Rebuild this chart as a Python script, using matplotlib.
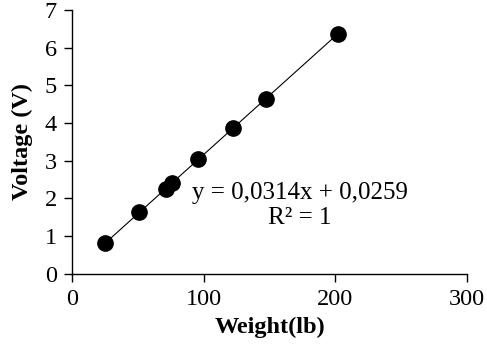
import matplotlib
matplotlib.use("Agg")
import matplotlib.pyplot as plt

# calibration data
weight_lb = [25, 51, 71, 76, 96, 122, 147, 202]
voltage_v = [0.81, 1.63, 2.26, 2.41, 3.04, 3.86, 4.64, 6.37]
fit_x = [25, 202]
fit_y = [0.811, 6.369]
x_ticks = [0, 100, 200, 300]
y_ticks = [0, 1, 2, 3, 4, 5, 6, 7]

plt.rcParams["font.family"] = ["Liberation Serif", "DejaVu Serif"]

fig = plt.figure(figsize=(4.87, 3.53), dpi=100)
ax = fig.add_axes([0.148, 0.224, 0.811, 0.748])

ax.plot(fit_x, fit_y, color="black", linewidth=0.8)
ax.plot(weight_lb, voltage_v, "o", color="black", markersize=11)

ax.set_xlim(0, 300)
ax.set_ylim(0, 7)
ax.set_xticks(x_ticks)
ax.set_yticks(y_ticks)
ax.tick_params(direction="out", length=6, width=1, labelsize=17.5, pad=5)
for s in ("top", "right"):
    ax.spines[s].set_visible(False)
for s in ("left", "bottom"):
    ax.spines[s].set_linewidth(1)

ax.set_xlabel("Weight(lb)", fontsize=17.5, fontweight="bold", labelpad=5)
ax.set_ylabel("Voltage (V)", fontsize=17.5, fontweight="bold", labelpad=8)

ax.text(173, 1.82, "y = 0,0314x + 0,0259\nR\u00b2 = 1", fontsize=18,
        ha="center", va="center", linespacing=1.15)

fig.savefig("out.png", dpi=100)
